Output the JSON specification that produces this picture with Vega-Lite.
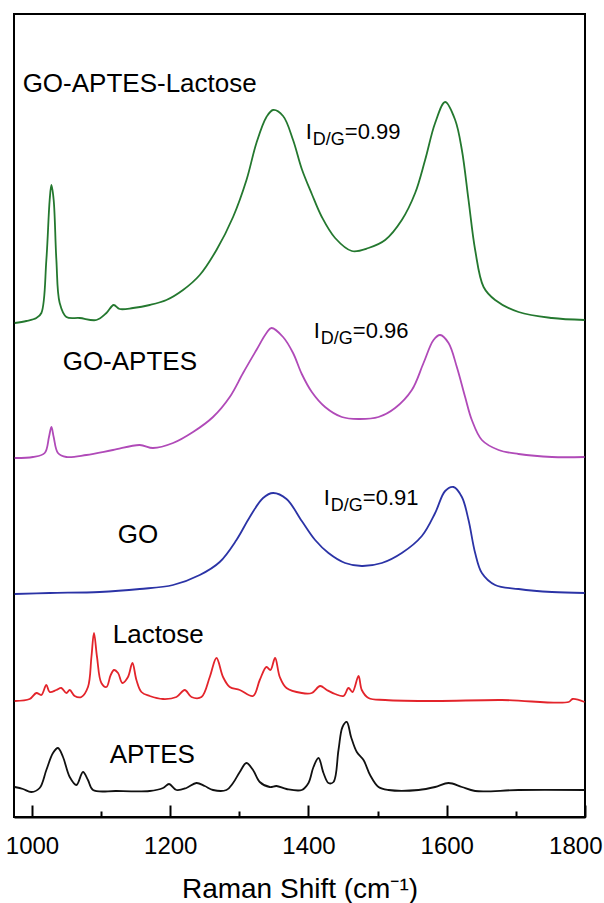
{
  "$schema": "https://vega.github.io/schema/vega-lite/v6.json",
  "autosize": {"type": "none"},
  "padding": {"left": 14, "top": 14, "right": 19, "bottom": 86},
  "width": 571,
  "height": 803,
  "background": "white",
  "config": {
    "view": {"stroke": "#000000", "strokeWidth": 2},
    "font": "Liberation Sans"
  },
  "datasets": {
    "spectra": [
      {"s":"GO-APTES-Lactose","w":975,"v":494},{"s":"GO-APTES-Lactose","w":991.9,"v":496},{"s":"GO-APTES-Lactose","w":1006.4,"v":499},{"s":"GO-APTES-Lactose","w":1013.6,"v":504},{"s":"GO-APTES-Lactose","w":1020.8,"v":557},{"s":"GO-APTES-Lactose","w":1025.6,"v":617},{"s":"GO-APTES-Lactose","w":1028.1,"v":632},{"s":"GO-APTES-Lactose","w":1031.4,"v":617},{"s":"GO-APTES-Lactose","w":1035.3,"v":557},{"s":"GO-APTES-Lactose","w":1040.1,"v":514},{"s":"GO-APTES-Lactose","w":1049.8,"v":500},{"s":"GO-APTES-Lactose","w":1069,"v":499},{"s":"GO-APTES-Lactose","w":1093.2,"v":497},{"s":"GO-APTES-Lactose","w":1107.7,"v":504},{"s":"GO-APTES-Lactose","w":1118.2,"v":512},{"s":"GO-APTES-Lactose","w":1126.9,"v":508},{"s":"GO-APTES-Lactose","w":1146.2,"v":509},{"s":"GO-APTES-Lactose","w":1170.4,"v":512},{"s":"GO-APTES-Lactose","w":1194.5,"v":517},{"s":"GO-APTES-Lactose","w":1218.5,"v":527},{"s":"GO-APTES-Lactose","w":1242.7,"v":542},{"s":"GO-APTES-Lactose","w":1266.9,"v":567},{"s":"GO-APTES-Lactose","w":1290.9,"v":600},{"s":"GO-APTES-Lactose","w":1310.3,"v":637},{"s":"GO-APTES-Lactose","w":1324.7,"v":674},{"s":"GO-APTES-Lactose","w":1339.2,"v":700},{"s":"GO-APTES-Lactose","w":1348.8,"v":707},{"s":"GO-APTES-Lactose","w":1363.2,"v":701},{"s":"GO-APTES-Lactose","w":1377.7,"v":677},{"s":"GO-APTES-Lactose","w":1390.3,"v":648},{"s":"GO-APTES-Lactose","w":1404.8,"v":623},{"s":"GO-APTES-Lactose","w":1419.3,"v":600},{"s":"GO-APTES-Lactose","w":1438.5,"v":579},{"s":"GO-APTES-Lactose","w":1462.7,"v":566},{"s":"GO-APTES-Lactose","w":1486.8,"v":569},{"s":"GO-APTES-Lactose","w":1510.9,"v":577},{"s":"GO-APTES-Lactose","w":1535,"v":597},{"s":"GO-APTES-Lactose","w":1554.3,"v":624},{"s":"GO-APTES-Lactose","w":1568.7,"v":657},{"s":"GO-APTES-Lactose","w":1583.2,"v":694},{"s":"GO-APTES-Lactose","w":1597.7,"v":715},{"s":"GO-APTES-Lactose","w":1612.2,"v":697},{"s":"GO-APTES-Lactose","w":1621.9,"v":667},{"s":"GO-APTES-Lactose","w":1631.5,"v":617},{"s":"GO-APTES-Lactose","w":1641.1,"v":567},{"s":"GO-APTES-Lactose","w":1653.3,"v":530},{"s":"GO-APTES-Lactose","w":1670,"v":517},{"s":"GO-APTES-Lactose","w":1703.9,"v":505},{"s":"GO-APTES-Lactose","w":1752.1,"v":499},{"s":"GO-APTES-Lactose","w":1799.4,"v":497},

      {"s":"GO-APTES","w":975,"v":359},{"s":"GO-APTES","w":1001.4,"v":360},{"s":"GO-APTES","w":1018.4,"v":364},{"s":"GO-APTES","w":1024.6,"v":380},{"s":"GO-APTES","w":1028.1,"v":390},{"s":"GO-APTES","w":1031.4,"v":380},{"s":"GO-APTES","w":1037.6,"v":364},{"s":"GO-APTES","w":1049.8,"v":360},{"s":"GO-APTES","w":1078.7,"v":362},{"s":"GO-APTES","w":1117.2,"v":367},{"s":"GO-APTES","w":1155.9,"v":372},{"s":"GO-APTES","w":1175.1,"v":369},{"s":"GO-APTES","w":1204.1,"v":374},{"s":"GO-APTES","w":1233,"v":385},{"s":"GO-APTES","w":1261.9,"v":400},{"s":"GO-APTES","w":1286.1,"v":420},{"s":"GO-APTES","w":1305.4,"v":444},{"s":"GO-APTES","w":1324.7,"v":467},{"s":"GO-APTES","w":1339.2,"v":484},{"s":"GO-APTES","w":1346.4,"v":489},{"s":"GO-APTES","w":1363.2,"v":480},{"s":"GO-APTES","w":1377.7,"v":464},{"s":"GO-APTES","w":1390.3,"v":443},{"s":"GO-APTES","w":1404.8,"v":425},{"s":"GO-APTES","w":1424,"v":410},{"s":"GO-APTES","w":1448.2,"v":400},{"s":"GO-APTES","w":1472.4,"v":398},{"s":"GO-APTES","w":1501.3,"v":400},{"s":"GO-APTES","w":1525.3,"v":409},{"s":"GO-APTES","w":1549.5,"v":427},{"s":"GO-APTES","w":1566.4,"v":454},{"s":"GO-APTES","w":1580.9,"v":477},{"s":"GO-APTES","w":1590.4,"v":482},{"s":"GO-APTES","w":1602.6,"v":474},{"s":"GO-APTES","w":1614.6,"v":450},{"s":"GO-APTES","w":1626.6,"v":420},{"s":"GO-APTES","w":1636.3,"v":397},{"s":"GO-APTES","w":1650.8,"v":377},{"s":"GO-APTES","w":1675,"v":367},{"s":"GO-APTES","w":1703.9,"v":363},{"s":"GO-APTES","w":1752.1,"v":360},{"s":"GO-APTES","w":1799.4,"v":360},

      {"s":"GO","w":975,"v":223},{"s":"GO","w":1025.6,"v":224},{"s":"GO","w":1097.9,"v":225},{"s":"GO","w":1155.9,"v":228},{"s":"GO","w":1204.1,"v":232},{"s":"GO","w":1242.7,"v":242},{"s":"GO","w":1271.6,"v":255},{"s":"GO","w":1295.8,"v":277},{"s":"GO","w":1315.1,"v":300},{"s":"GO","w":1334.3,"v":319},{"s":"GO","w":1348.8,"v":324},{"s":"GO","w":1368.2,"v":318},{"s":"GO","w":1390.3,"v":296},{"s":"GO","w":1409.6,"v":277},{"s":"GO","w":1428.9,"v":264},{"s":"GO","w":1453,"v":254},{"s":"GO","w":1477.1,"v":251},{"s":"GO","w":1506.1,"v":254},{"s":"GO","w":1535,"v":264},{"s":"GO","w":1564,"v":281},{"s":"GO","w":1583.2,"v":304},{"s":"GO","w":1597.7,"v":326},{"s":"GO","w":1609.8,"v":330},{"s":"GO","w":1621.9,"v":320},{"s":"GO","w":1631.5,"v":297},{"s":"GO","w":1641.1,"v":264},{"s":"GO","w":1650.8,"v":244},{"s":"GO","w":1670,"v":232},{"s":"GO","w":1703.9,"v":228},{"s":"GO","w":1752.1,"v":225},{"s":"GO","w":1799.4,"v":224},

      {"s":"Lactose","w":975,"v":116},{"s":"Lactose","w":996.7,"v":118},{"s":"Lactose","w":1006.4,"v":124},{"s":"Lactose","w":1013.6,"v":122},{"s":"Lactose","w":1020.8,"v":132},{"s":"Lactose","w":1025.6,"v":125},{"s":"Lactose","w":1035.3,"v":127},{"s":"Lactose","w":1042.5,"v":129},{"s":"Lactose","w":1049.8,"v":124},{"s":"Lactose","w":1054.6,"v":127},{"s":"Lactose","w":1061.8,"v":121},{"s":"Lactose","w":1071.5,"v":120},{"s":"Lactose","w":1081,"v":130},{"s":"Lactose","w":1086,"v":160},{"s":"Lactose","w":1089.7,"v":184},{"s":"Lactose","w":1094.1,"v":160},{"s":"Lactose","w":1100.4,"v":134},{"s":"Lactose","w":1107.7,"v":130},{"s":"Lactose","w":1113.9,"v":142},{"s":"Lactose","w":1118.7,"v":147},{"s":"Lactose","w":1124.5,"v":144},{"s":"Lactose","w":1130.8,"v":134},{"s":"Lactose","w":1138.9,"v":140},{"s":"Lactose","w":1145.3,"v":154},{"s":"Lactose","w":1151.1,"v":137},{"s":"Lactose","w":1158.3,"v":125},{"s":"Lactose","w":1170.3,"v":121},{"s":"Lactose","w":1189.6,"v":118},{"s":"Lactose","w":1209,"v":120},{"s":"Lactose","w":1221,"v":127},{"s":"Lactose","w":1230.7,"v":120},{"s":"Lactose","w":1245.2,"v":120},{"s":"Lactose","w":1257.2,"v":140},{"s":"Lactose","w":1266.9,"v":159},{"s":"Lactose","w":1276.4,"v":140},{"s":"Lactose","w":1286.1,"v":130},{"s":"Lactose","w":1300.6,"v":127},{"s":"Lactose","w":1319.8,"v":121},{"s":"Lactose","w":1329.5,"v":137},{"s":"Lactose","w":1339.2,"v":150},{"s":"Lactose","w":1345,"v":147},{"s":"Lactose","w":1351.7,"v":159},{"s":"Lactose","w":1358.5,"v":140},{"s":"Lactose","w":1368.2,"v":129},{"s":"Lactose","w":1390.3,"v":124},{"s":"Lactose","w":1404.8,"v":124},{"s":"Lactose","w":1416.8,"v":131},{"s":"Lactose","w":1426.5,"v":127},{"s":"Lactose","w":1438.5,"v":123},{"s":"Lactose","w":1450.7,"v":121},{"s":"Lactose","w":1457.9,"v":129},{"s":"Lactose","w":1463.7,"v":125},{"s":"Lactose","w":1472.4,"v":141},{"s":"Lactose","w":1477.1,"v":127},{"s":"Lactose","w":1486.8,"v":119},{"s":"Lactose","w":1510.9,"v":117},{"s":"Lactose","w":1583.2,"v":116},{"s":"Lactose","w":1679.7,"v":117},{"s":"Lactose","w":1776.3,"v":115},{"s":"Lactose","w":1782.1,"v":118},{"s":"Lactose","w":1799.4,"v":115},

      {"s":"APTES","w":975,"v":30},{"s":"APTES","w":987,"v":28},{"s":"APTES","w":999.1,"v":25},{"s":"APTES","w":1011.1,"v":29},{"s":"APTES","w":1020.8,"v":47},{"s":"APTES","w":1030.4,"v":64},{"s":"APTES","w":1037.6,"v":69},{"s":"APTES","w":1044.9,"v":60},{"s":"APTES","w":1054.6,"v":40},{"s":"APTES","w":1064.3,"v":32},{"s":"APTES","w":1073.8,"v":45},{"s":"APTES","w":1081,"v":37},{"s":"APTES","w":1088.3,"v":27},{"s":"APTES","w":1122.1,"v":26},{"s":"APTES","w":1170.3,"v":26},{"s":"APTES","w":1189.6,"v":29},{"s":"APTES","w":1198.3,"v":33},{"s":"APTES","w":1209,"v":27},{"s":"APTES","w":1223.4,"v":29},{"s":"APTES","w":1237.9,"v":34},{"s":"APTES","w":1249.9,"v":31},{"s":"APTES","w":1261.9,"v":27},{"s":"APTES","w":1281.3,"v":27},{"s":"APTES","w":1290.9,"v":34},{"s":"APTES","w":1300.6,"v":45},{"s":"APTES","w":1310.3,"v":54},{"s":"APTES","w":1319.8,"v":47},{"s":"APTES","w":1329.5,"v":35},{"s":"APTES","w":1344,"v":30},{"s":"APTES","w":1353.7,"v":31},{"s":"APTES","w":1368.2,"v":28},{"s":"APTES","w":1390.3,"v":27},{"s":"APTES","w":1400,"v":34},{"s":"APTES","w":1407.2,"v":50},{"s":"APTES","w":1414.5,"v":59},{"s":"APTES","w":1421.7,"v":44},{"s":"APTES","w":1428.9,"v":34},{"s":"APTES","w":1436.2,"v":35},{"s":"APTES","w":1443.4,"v":67},{"s":"APTES","w":1449.2,"v":90},{"s":"APTES","w":1455.4,"v":95},{"s":"APTES","w":1461.6,"v":80},{"s":"APTES","w":1469.9,"v":65},{"s":"APTES","w":1479.6,"v":57},{"s":"APTES","w":1489.1,"v":42},{"s":"APTES","w":1501.3,"v":30},{"s":"APTES","w":1515.8,"v":27},{"s":"APTES","w":1559.2,"v":27},{"s":"APTES","w":1583.2,"v":30},{"s":"APTES","w":1602.6,"v":34},{"s":"APTES","w":1621.9,"v":30},{"s":"APTES","w":1641.1,"v":26},{"s":"APTES","w":1703.9,"v":27},{"s":"APTES","w":1799.4,"v":27}
    ],
    "labels": [
      {"t":"GO-APTES-Lactose","w":986.5,"v":725},
      {"t":"GO-APTES","w":1044.4,"v":447},
      {"t":"GO","w":1124,"v":274},
      {"t":"Lactose","w":1116.8,"v":174},
      {"t":"APTES","w":1112.4,"v":54}
    ],
    "idg": [
      {"val":"=0.99","w":1396.1,"v":678},
      {"val":"=0.96","w":1407.7,"v":479},
      {"val":"=0.91","w":1422.2,"v":312}
    ]
  },
  "layer": [
    {
      "data": {"name": "spectra"},
      "mark": {"type": "line", "strokeWidth": 1.8, "interpolate": "catmull-rom"},
      "encoding": {
        "x": {
          "field": "w", "type": "quantitative",
          "scale": {"domain": [974, 1800], "nice": false, "zero": false},
          "axis": {
            "values": [1000, 1100, 1200, 1300, 1400, 1500, 1600, 1700, 1800],
            "format": "d",
            "labelExpr": "datum.value % 200 === 0 ? datum.label : ''",
            "labelFont": "Liberation Sans",
            "labelFontSize": 24,
            "labelColor": "#000000",
            "labelPadding": 29,
            "labelOverlap": false,
            "labelFlush": true,
            "labelFlushOffset": 17,
            "tickSize": {"condition": {"test": "datum.value % 200 === 0", "value": -12}, "value": -6},
            "tickColor": "#000000",
            "tickWidth": 2,
            "domainColor": "#000000",
            "domainWidth": 2,
            "grid": false,
            "title": "Raman Shift (cm⁻¹)",
            "titleFont": "Liberation Sans",
            "titleFontSize": 28,
            "titleFontWeight": "normal",
            "titleColor": "#000000",
            "titleBaseline": "alphabetic",
            "titleY": 80
          }
        },
        "y": {
          "field": "v", "type": "quantitative",
          "scale": {"domain": [0, 803], "nice": false, "zero": false},
          "axis": null
        },
        "color": {
          "field": "s", "type": "nominal",
          "scale": {
            "domain": ["GO-APTES-Lactose", "GO-APTES", "GO", "Lactose", "APTES"],
            "range": ["#24782f", "#b04ab8", "#2b33a6", "#e3242b", "#111111"]
          },
          "legend": null
        }
      }
    },
    {
      "data": {"name": "labels"},
      "mark": {"type": "text", "align": "left", "baseline": "alphabetic", "fontSize": 26, "font": "Liberation Sans", "color": "#000000"},
      "encoding": {
        "x": {"field": "w", "type": "quantitative"},
        "y": {"field": "v", "type": "quantitative"},
        "text": {"field": "t"}
      }
    },
    {
      "data": {"name": "idg"},
      "mark": {"type": "text", "align": "left", "baseline": "alphabetic", "fontSize": 22, "font": "Liberation Sans", "color": "#000000", "text": "I"},
      "encoding": {
        "x": {"field": "w", "type": "quantitative"},
        "y": {"field": "v", "type": "quantitative"}
      }
    },
    {
      "data": {"name": "idg"},
      "mark": {"type": "text", "align": "left", "baseline": "alphabetic", "fontSize": 18, "font": "Liberation Sans", "color": "#000000", "text": "D/G", "dx": 7, "dy": 6},
      "encoding": {
        "x": {"field": "w", "type": "quantitative"},
        "y": {"field": "v", "type": "quantitative"}
      }
    },
    {
      "data": {"name": "idg"},
      "mark": {"type": "text", "align": "left", "baseline": "alphabetic", "fontSize": 22, "font": "Liberation Sans", "color": "#000000", "dx": 39},
      "encoding": {
        "x": {"field": "w", "type": "quantitative"},
        "y": {"field": "v", "type": "quantitative"},
        "text": {"field": "val"}
      }
    }
  ]
}
